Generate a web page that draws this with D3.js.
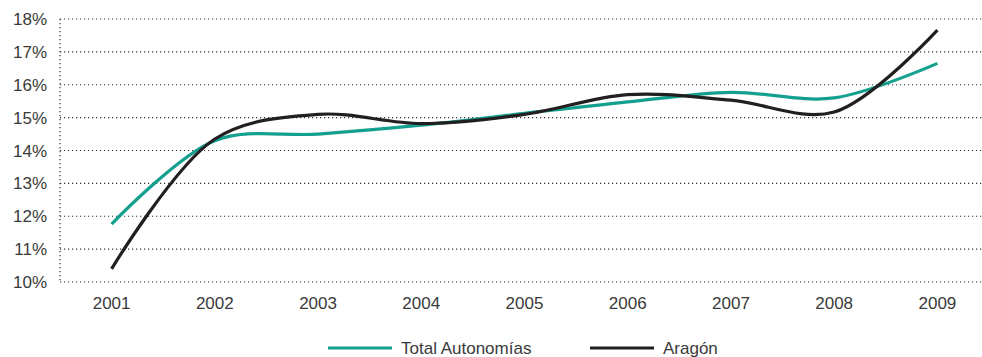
<!DOCTYPE html>
<html><head><meta charset="utf-8">
<script src="https://cdn.jsdelivr.net/npm/d3@7"></script>
<style>
html,body{margin:0;padding:0;background:#fff;}
text{font-family:"Liberation Sans","Helvetica Neue",Arial,sans-serif;fill:#3a3a3a;}
</style></head>
<body><svg id="c" width="982" height="357"></svg>
<script>
const years = ["2001","2002","2003","2004","2005","2006","2007","2008","2009"];
const totalAutonomias = [11.76, 14.3, 14.5, 14.77, 15.13, 15.48, 15.77, 15.6, 16.65];
const aragon = [10.4, 14.35, 15.1, 14.82, 15.1, 15.7, 15.53, 15.17, 17.66];
const yTicks = [10, 11, 12, 13, 14, 15, 16, 17, 18];
const seriesNames = ["Total Autonomías", "Aragón"];
const seriesColors = ["#14a08f", "#231f20"];

(function () {
const svg = d3.select("#c");
const mLeft = 60, mRight = 982, mTop = 19, mBottom = 282;
const fs = 17;
const x = d3.scalePoint().domain(years).range([mLeft, 989]).padding(0.5);
const y = d3.scaleLinear().domain([10, 18]).range([mBottom, mTop]);

// grid
svg.append("g").selectAll("line").data(yTicks).join("line")
  .attr("x1", mLeft).attr("x2", mRight)
  .attr("y1", d => y(d)).attr("y2", d => y(d))
  .attr("stroke", "#333").attr("stroke-width", 1.2).attr("stroke-dasharray", "1.2,2.8");
svg.append("line").attr("x1", mLeft).attr("x2", mLeft).attr("y1", mTop).attr("y2", mBottom)
  .attr("stroke", "#333").attr("stroke-width", 1.2).attr("stroke-dasharray", "1.2,2.8");

// y labels
svg.append("g").selectAll("text").data(yTicks).join("text")
  .attr("x", 47).attr("y", d => y(d)).attr("dy", "0.36em")
  .attr("text-anchor", "end").attr("font-size", fs)
  .text(d => d + "%");

// x labels
svg.append("g").selectAll("text").data(years).join("text")
  .attr("x", d => x(d)).attr("y", 309)
  .attr("text-anchor", "middle").attr("font-size", fs)
  .text(d => d);

const line = d3.line().x((d, i) => x(years[i])).y(d => y(d)).curve(d3.curveCatmullRom.alpha(0.5));
[totalAutonomias, aragon].forEach((s, i) => {
  svg.append("path").attr("d", line(s)).attr("fill", "none")
    .attr("stroke", seriesColors[i]).attr("stroke-width", 3.2);
});

// legend
const legX = [328, 590];
seriesNames.forEach((n, i) => {
  svg.append("line").attr("x1", legX[i]).attr("x2", legX[i] + 64)
    .attr("y1", 348).attr("y2", 348).attr("stroke", seriesColors[i]).attr("stroke-width", 3.2);
  svg.append("text").attr("x", legX[i] + 73).attr("y", 348).attr("dy", "0.36em")
    .attr("font-size", fs).text(n);
});
})();
</script></body></html>
